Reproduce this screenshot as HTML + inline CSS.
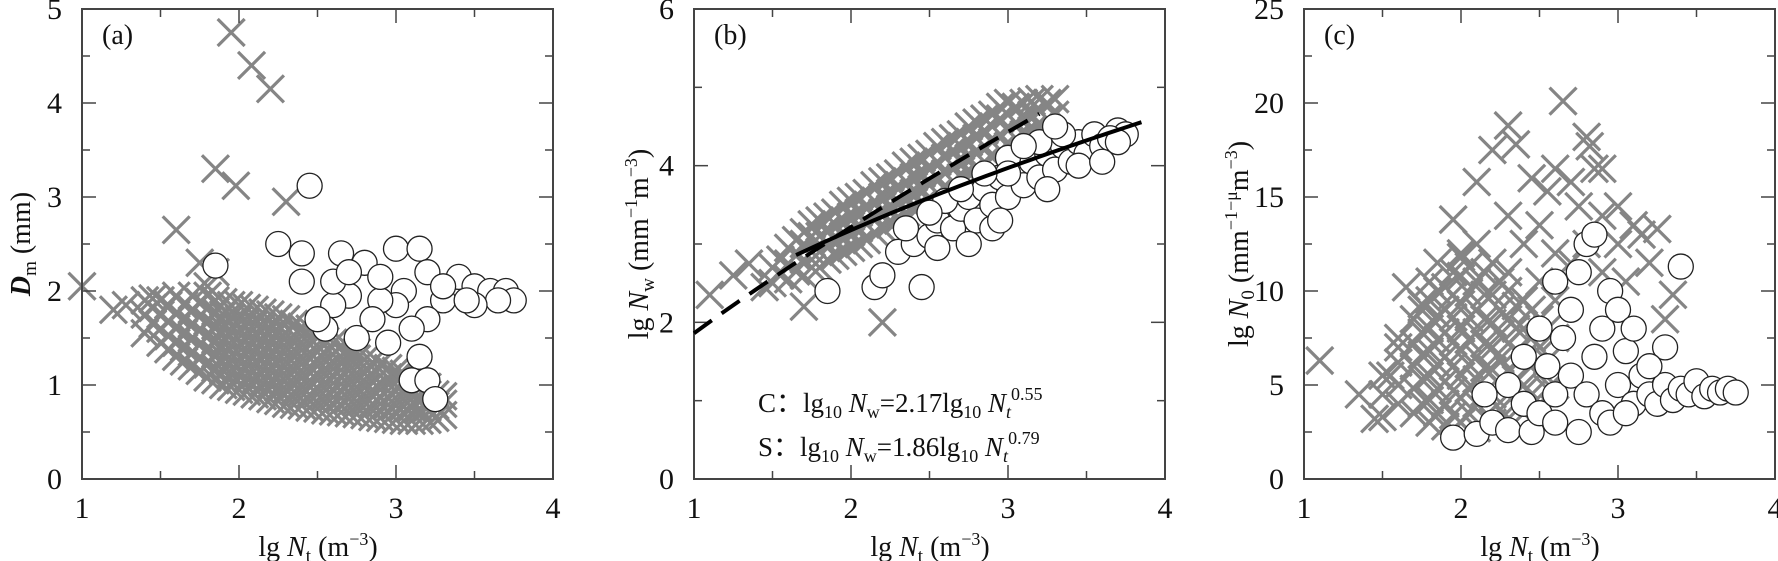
<!DOCTYPE html>
<html><head><meta charset="utf-8"><style>
body{margin:0;background:#fff;width:1778px;height:561px;overflow:hidden}
svg{display:block}
text{font-family:"Liberation Serif",serif;fill:#111}
</style></head><body>
<svg id="chart" width="1778" height="561" viewBox="0 0 1778 561" xmlns="http://www.w3.org/2000/svg"></svg>
<script>
// ---------- data ----------
const aCross = [[1.0,2.05],[1.2,1.8],[1.28,1.85],[1.45,1.92],[1.6,2.65],[1.75,2.3],[1.85,3.3],[1.95,4.75],[2.08,4.4],[2.2,4.15],[1.98,3.12],[2.3,2.95],[1.85,2.2],[1.8,2.05],
[1.4,1.55],[1.4,1.75],[1.4,1.9],[1.5,1.45],[1.5,1.6],[1.5,1.75],[1.5,1.9],
[1.6,1.3],[1.6,1.45],[1.6,1.6],[1.6,1.75],[1.6,1.95],[1.7,1.2],[1.7,1.35],[1.7,1.5],[1.7,1.65],[1.7,1.8],[1.7,1.95],
[1.8,1.08],[1.8,1.22],[1.8,1.38],[1.8,1.52],[1.8,1.68],[1.8,1.82],[1.8,1.95],[1.9,1.0],[1.9,1.15],[1.9,1.3],[1.9,1.45],[1.9,1.6],[1.9,1.75],[1.9,1.88],
[2.0,0.95],[2.0,1.1],[2.0,1.25],[2.0,1.4],[2.0,1.55],[2.0,1.7],[2.0,1.85],[2.1,0.9],[2.1,1.05],[2.1,1.2],[2.1,1.35],[2.1,1.5],[2.1,1.65],[2.1,1.8],
[2.2,0.85],[2.2,1.0],[2.2,1.15],[2.2,1.3],[2.2,1.45],[2.2,1.6],[2.2,1.75],[2.3,0.8],[2.3,0.95],[2.3,1.1],[2.3,1.25],[2.3,1.4],[2.3,1.55],[2.3,1.7],
[2.4,0.78],[2.4,0.92],[2.4,1.07],[2.4,1.22],[2.4,1.37],[2.4,1.52],[2.4,1.62],[2.5,0.75],[2.5,0.9],[2.5,1.05],[2.5,1.2],[2.5,1.35],[2.5,1.5],
[2.6,0.72],[2.6,0.87],[2.6,1.02],[2.6,1.17],[2.6,1.32],[2.6,1.45],[2.7,0.7],[2.7,0.85],[2.7,1.0],[2.7,1.15],[2.7,1.3],[2.7,1.4],
[2.8,0.68],[2.8,0.82],[2.8,0.97],[2.8,1.12],[2.8,1.27],[2.9,0.65],[2.9,0.8],[2.9,0.95],[2.9,1.1],[2.9,1.22],
[3.0,0.63],[3.0,0.78],[3.0,0.93],[3.0,1.08],[3.0,1.15],[3.1,0.62],[3.1,0.76],[3.1,0.9],[3.1,1.02],[3.2,0.63],[3.2,0.76],[3.2,0.9],[3.2,0.98],[3.3,0.68],[3.3,0.8],[3.3,0.88],
[1.45,1.65],[1.45,1.82],[1.55,1.38],[1.55,1.52],[1.55,1.68],[1.55,1.85],[1.65,1.25],[1.65,1.4],[1.65,1.55],[1.65,1.7],[1.65,1.85],
[1.75,1.15],[1.75,1.28],[1.75,1.43],[1.75,1.58],[1.75,1.73],[1.75,1.88],[1.85,1.05],[1.85,1.18],[1.85,1.33],[1.85,1.48],[1.85,1.63],[1.85,1.78],[1.85,1.9],
[1.95,0.98],[1.95,1.12],[1.95,1.27],[1.95,1.42],[1.95,1.57],[1.95,1.72],[1.95,1.85],[2.05,0.93],[2.05,1.07],[2.05,1.22],[2.05,1.37],[2.05,1.52],[2.05,1.67],[2.05,1.82],
[2.15,0.88],[2.15,1.02],[2.15,1.17],[2.15,1.32],[2.15,1.47],[2.15,1.62],[2.15,1.77],[2.25,0.83],[2.25,0.97],[2.25,1.12],[2.25,1.27],[2.25,1.42],[2.25,1.57],[2.25,1.72],
[2.35,0.79],[2.35,0.93],[2.35,1.08],[2.35,1.23],[2.35,1.38],[2.35,1.53],[2.35,1.65],[2.45,0.76],[2.45,0.9],[2.45,1.05],[2.45,1.2],[2.45,1.35],[2.45,1.5],[2.45,1.6],
[2.55,0.73],[2.55,0.88],[2.55,1.03],[2.55,1.18],[2.55,1.33],[2.55,1.47],[2.65,0.71],[2.65,0.86],[2.65,1.01],[2.65,1.16],[2.65,1.3],[2.65,1.42],
[2.75,0.69],[2.75,0.83],[2.75,0.98],[2.75,1.13],[2.75,1.28],[2.75,1.35],[2.85,0.66],[2.85,0.8],[2.85,0.95],[2.85,1.1],[2.85,1.24],
[2.95,0.64],[2.95,0.79],[2.95,0.94],[2.95,1.08],[2.95,1.18],[3.05,0.62],[3.05,0.77],[3.05,0.91],[3.05,1.05],[3.05,1.12],
[3.15,0.62],[3.15,0.75],[3.15,0.88],[3.15,1.0],[3.25,0.65],[3.25,0.78],[3.25,0.9]];
const aCircle = [[1.85,2.27],[2.25,2.5],[2.45,3.12],[2.4,2.4],[2.4,2.1],[2.65,2.4],[2.8,2.3],[3.0,2.45],[3.15,2.45],[3.05,2.0],[3.2,2.2],[3.4,2.15],[3.5,2.05],[3.6,2.0],[3.7,2.0],[3.75,1.9],[3.65,1.9],[3.5,1.85],[3.3,1.9],[3.2,1.7],[3.1,1.6],[3.0,1.85],[2.9,1.9],[2.85,1.7],[2.7,1.95],[2.6,1.85],[2.55,1.6],[2.75,1.5],[2.95,1.45],[3.15,1.3],[3.1,1.05],[3.2,1.05],[3.25,0.85],[2.6,2.1],[2.9,2.15],[3.3,2.05],[3.45,1.9],[2.5,1.7],[2.7,2.2]];
const bCross = [[1.1,2.35],[1.35,2.75],[1.25,2.6],[1.45,2.45],[1.7,2.2],[2.2,2.0],
[1.5,2.5],[1.5,2.7],[1.6,2.55],[1.6,2.75],[1.6,2.95],[1.7,2.6],[1.7,2.8],[1.7,3.0],[1.7,3.15],[1.8,2.7],[1.8,2.9],[1.8,3.1],[1.8,3.3],
[1.9,2.85],[1.9,3.05],[1.9,3.25],[1.9,3.4],[2.0,2.95],[2.0,3.15],[2.0,3.35],[2.0,3.55],[2.1,3.05],[2.1,3.25],[2.1,3.45],[2.1,3.65],
[2.2,3.2],[2.2,3.4],[2.2,3.6],[2.2,3.8],[2.3,3.3],[2.3,3.5],[2.3,3.7],[2.3,3.9],[2.4,3.45],[2.4,3.65],[2.4,3.85],[2.4,4.05],
[2.5,3.55],[2.5,3.75],[2.5,3.95],[2.5,4.15],[2.6,3.7],[2.6,3.9],[2.6,4.1],[2.6,4.3],[2.7,3.85],[2.7,4.05],[2.7,4.25],[2.7,4.4],
[2.8,3.95],[2.8,4.15],[2.8,4.35],[2.8,4.55],[2.9,4.1],[2.9,4.3],[2.9,4.5],[2.9,4.65],[3.0,4.25],[3.0,4.45],[3.0,4.65],[3.0,4.8],
[3.1,4.4],[3.1,4.6],[3.1,4.8],[3.2,4.5],[3.2,4.7],[3.2,4.85],[3.3,4.65],[3.3,4.85],
[1.55,2.6],[1.55,2.8],[1.65,2.65],[1.65,2.85],[1.65,3.05],[1.75,2.7],[1.75,2.9],[1.75,3.1],[1.75,3.25],[1.85,2.8],[1.85,3.0],[1.85,3.2],[1.85,3.35],
[1.95,2.9],[1.95,3.1],[1.95,3.3],[1.95,3.5],[2.05,3.0],[2.05,3.2],[2.05,3.4],[2.05,3.6],[2.15,3.15],[2.15,3.35],[2.15,3.55],[2.15,3.75],
[2.25,3.25],[2.25,3.45],[2.25,3.65],[2.25,3.85],[2.35,3.4],[2.35,3.6],[2.35,3.8],[2.35,4.0],[2.45,3.5],[2.45,3.7],[2.45,3.9],[2.45,4.1],
[2.55,3.65],[2.55,3.85],[2.55,4.05],[2.55,4.25],[2.65,3.8],[2.65,4.0],[2.65,4.2],[2.65,4.35],[2.75,3.9],[2.75,4.1],[2.75,4.3],[2.75,4.5],
[2.85,4.05],[2.85,4.25],[2.85,4.45],[2.85,4.6],[2.95,4.2],[2.95,4.4],[2.95,4.6],[2.95,4.75],[3.05,4.35],[3.05,4.55],[3.05,4.75],
[3.15,4.45],[3.15,4.65],[3.15,4.82],[3.25,4.6],[3.25,4.8]];
const bCircle = [[1.85,2.4],[2.15,2.45],[2.2,2.6],[2.45,2.45],[2.3,2.9],[2.4,3.0],[2.5,3.1],[2.55,3.3],[2.65,3.2],[2.7,3.45],[2.75,3.6],[2.8,3.3],[2.85,3.7],[2.9,3.5],[2.95,3.85],[3.0,3.6],[3.05,3.95],[3.1,3.75],[3.15,4.05],[3.2,3.85],[3.25,4.15],[3.3,3.95],[3.35,4.25],[3.4,4.05],[3.45,4.3],[3.5,4.15],[3.55,4.4],[3.6,4.25],[3.7,4.45],[3.75,4.4],[3.65,4.35],[2.6,3.55],[2.9,3.2],[3.0,4.1],[3.2,4.3],[3.1,4.25],[2.75,3.0],[2.95,3.3],[3.35,4.4],[2.35,3.2],[2.55,2.95],[3.3,4.5],
[3.0,3.9],[3.25,3.7],[3.45,4.0],[3.6,4.05],[3.7,4.3],[2.85,3.9],[2.7,3.7],[2.5,3.4]];
const cCross = [[1.1,6.3],[1.45,3.2],[1.55,5.5],[1.35,4.5],[1.65,10.2],[1.75,9.3],[1.6,7.5],[1.95,13.8],[2.1,15.8],[2.2,17.5],[2.3,18.8],[2.35,17.8],[2.45,16.0],[2.55,15.3],[2.65,20.1],[2.6,16.5],[2.7,15.8],[2.8,18.2],[2.82,17.7],[2.85,16.5],[2.9,16.5],[2.75,14.5],[2.8,12.5],[3.0,12.5],[3.1,13.5],[3.15,13.0],[3.25,13.3],[3.35,9.8],[2.9,11.0],[3.05,10.5],[2.7,11.5],[2.4,12.5],[2.5,13.5],[2.3,14.0],[2.9,14.0],[3.0,14.5],[1.85,11.5],[2.0,11.8],[3.3,8.5],[3.2,11.5],
[1.5,3.3],[1.5,4.5],[1.5,5.5],[1.6,4.0],[1.6,5.0],[1.6,6.2],[1.6,7.0],[1.7,3.5],[1.7,4.8],[1.7,6.0],[1.7,7.2],[1.7,8.5],
[1.8,3.0],[1.8,4.2],[1.8,5.5],[1.8,6.8],[1.8,8.0],[1.8,9.5],[1.8,10.5],[1.9,2.8],[1.9,4.0],[1.9,5.2],[1.9,6.5],[1.9,7.8],[1.9,9.0],[1.9,10.2],
[2.0,3.0],[2.0,4.3],[2.0,5.5],[2.0,6.8],[2.0,8.0],[2.0,9.3],[2.0,10.8],[2.0,12.0],[2.1,2.7],[2.1,4.0],[2.1,5.3],[2.1,6.5],[2.1,7.8],[2.1,9.0],[2.1,10.5],[2.1,12.5],
[2.2,3.0],[2.2,4.5],[2.2,5.8],[2.2,7.0],[2.2,8.3],[2.2,9.8],[2.2,11.5],[2.3,3.2],[2.3,4.5],[2.3,5.8],[2.3,7.2],[2.3,8.5],[2.3,10.0],[2.3,11.0],
[2.4,3.5],[2.4,5.0],[2.4,6.5],[2.4,8.0],[2.4,9.5],[2.5,4.0],[2.5,5.5],[2.5,7.0],[2.5,8.5],[2.5,10.5],[2.6,5.0],[2.6,7.5],[2.6,9.5],[2.6,12.0],
[1.75,4.0],[1.75,5.3],[1.75,6.6],[1.75,7.8],[1.75,9.0],[1.85,3.5],[1.85,4.8],[1.85,6.1],[1.85,7.4],[1.85,8.7],[1.85,10.0],
[1.95,3.4],[1.95,4.7],[1.95,6.0],[1.95,7.3],[1.95,8.6],[1.95,9.8],[1.95,11.0],[2.05,3.5],[2.05,4.8],[2.05,6.1],[2.05,7.4],[2.05,8.6],[2.05,9.9],[2.05,11.3],
[2.15,3.3],[2.15,4.6],[2.15,5.9],[2.15,7.2],[2.15,8.5],[2.15,9.8],[2.15,11.0],[2.25,3.7],[2.25,5.0],[2.25,6.4],[2.25,7.7],[2.25,9.0],[2.25,10.5],
[2.35,4.0],[2.35,5.3],[2.35,6.8],[2.35,8.0],[2.35,9.2],[2.45,4.5],[2.45,6.0],[2.45,7.5],[2.45,9.0],[2.55,4.8],[2.55,6.3],[2.55,8.0]];
const cCircle = [[1.95,2.2],[2.1,2.4],[2.2,3.0],[2.3,2.6],[2.45,2.5],[2.15,4.5],[2.3,5.0],[2.4,4.0],[2.5,3.5],[2.6,4.5],[2.55,6.0],[2.65,7.5],[2.7,9.0],[2.75,11.0],[2.8,12.5],[2.7,5.5],[2.8,4.5],[2.85,6.5],[2.9,8.0],[2.95,10.0],[2.9,3.5],[3.0,5.0],[3.05,6.8],[3.1,4.0],[3.15,5.5],[3.2,4.5],[3.25,4.0],[3.3,5.0],[3.35,4.2],[3.4,4.8],[3.45,4.5],[3.5,5.2],[3.55,4.4],[3.6,4.8],[3.65,4.6],[3.7,4.8],[3.75,4.6],[3.3,7.0],[3.4,11.3],[3.0,9.0],[2.85,13.0],[2.6,10.5],[2.5,8.0],[2.4,6.5],[3.1,8.0],[3.2,6.0],[2.95,3.0],[2.6,3.0],[3.05,3.5],[2.75,2.5]];
const xTicks = [1,2,3,4];
const aYTicks = [0,1,2,3,4,5];
const bYTicks = [0,2,4,6];
const cYTicks = [0,5,10,15,20,25];
const fitC = [2.17,0.55,1.65,3.85]; // coef, exponent, xstart, xend (solid)
const fitS = [1.86,0.79,1.0,3.2];   // dashed

// ---------- drawing ----------
const NS='http://www.w3.org/2000/svg';
const svg=document.getElementById('chart');
function mk(tag,attrs,parent){const e=document.createElementNS(NS,tag);for(const k in attrs)e.setAttribute(k,attrs[k]);(parent||svg).appendChild(e);return e;}
const TOP=9,BOT=479,W=471;
function panel(name,left,ymax,yTicks,minorY,crosses,circles,label){
  const g=mk('g',{});
  
  
  const sx=v=>left+(v-1)/3*W, sy=v=>BOT-(v/ymax)*(BOT-TOP);
  const cg=mk('g',{},g);
  
  
  crosses.forEach(p=>{const x=sx(p[0]),y=sy(p[1]),h=13.5;
    const e=mk('path',{d:`M${x-h},${y-h}L${x+h},${y+h}M${x-h},${y+h}L${x+h},${y-h}`,stroke:'#858585','stroke-width':3.2,fill:'none'},cg);
    
    });
  const og=mk('g',{},g);
  
  
  circles.forEach(p=>{const e=mk('circle',{cx:sx(p[0]),cy:sy(p[1]),r:12.5,fill:'#fff',stroke:'#222','stroke-width':1.3},og);
    
    });
  const fr=mk('rect',{x:left,y:TOP,width:W,height:BOT-TOP,fill:'none',stroke:'#444','stroke-width':2},g);
  
  
  for(let v=1;v<=4;v+=0.5){const x=sx(v),L=(v%1===0)?14:8;
    mk('line',{x1:x,y1:BOT,x2:x,y2:BOT-L,stroke:'#444','stroke-width':1.5},g);
    mk('line',{x1:x,y1:TOP,x2:x,y2:TOP+L,stroke:'#444','stroke-width':1.5},g);}
  xTicks.forEach(v=>{const t=mk('text',{x:sx(v),y:518,'font-size':30,'text-anchor':'middle'},g);t.textContent=v;
    
    });
  for(let v=0;v<=ymax;v+=minorY){const y=sy(v),L=(yTicks.indexOf(v)>=0)?14:8;
    mk('line',{x1:left,y1:y,x2:left+L,y2:y,stroke:'#444','stroke-width':1.5},g);
    mk('line',{x1:left+W,y1:y,x2:left+W-L,y2:y,stroke:'#444','stroke-width':1.5},g);}
  yTicks.forEach(v=>{const t=mk('text',{x:left-20,y:sy(v)+10,'font-size':30,'text-anchor':'end'},g);t.textContent=v;
    
    });
  const pl=mk('text',{x:left+20,y:44,'font-size':28},g);pl.textContent=label;
  
  
  return {g,sx,sy};
}
const pa=panel('panel-a',82,5,aYTicks,0.5,aCross,aCircle,'(a)');
const pb=panel('panel-b',694,6,bYTicks,1,bCross,bCircle,'(b)');
const pc=panel('panel-c',1304,25,cYTicks,2.5,cCross,cCircle,'(c)');
function fit(f,dash,name){let d='';for(let i=0;i<=40;i++){const x=f[2]+(f[3]-f[2])*i/40,y=f[0]*Math.pow(x,f[1]);d+=(i?'L':'M')+pb.sx(x)+','+pb.sy(y);}
  const e=mk('path',{d,fill:'none',stroke:'#000','stroke-width':4,'stroke-dasharray':dash},pb.g);
  
  }
fit(fitC,'none','fit-line-c');
fit(fitS,'22,12','fit-line-s');
</script>
<script>
(function(){
const svg=document.getElementById('chart');
function add(html){svg.insertAdjacentHTML('beforeend',html);}
add('<text x="318" y="556" font-size="28" text-anchor="middle">lg <tspan font-style="italic">N</tspan><tspan font-size="19" dy="6">t</tspan><tspan dy="-6">  (m</tspan><tspan font-size="18" dy="-11">−3</tspan><tspan dy="11">)</tspan></text>');
add('<text x="930" y="556" font-size="28" text-anchor="middle">lg <tspan font-style="italic">N</tspan><tspan font-size="19" dy="6">t</tspan><tspan dy="-6">  (m</tspan><tspan font-size="18" dy="-11">−3</tspan><tspan dy="11">)</tspan></text>');
add('<text x="1540" y="556" font-size="28" text-anchor="middle">lg <tspan font-style="italic">N</tspan><tspan font-size="19" dy="6">t</tspan><tspan dy="-6">  (m</tspan><tspan font-size="18" dy="-11">−3</tspan><tspan dy="11">)</tspan></text>');
add('<text transform="translate(30,244) rotate(-90)" font-size="28" text-anchor="middle"><tspan font-style="italic" font-weight="bold">D</tspan><tspan font-size="19" dy="6">m</tspan><tspan dy="-6"> (mm)</tspan></text>');
add('<text transform="translate(648,244) rotate(-90)" font-size="28" text-anchor="middle">lg <tspan font-style="italic">N</tspan><tspan font-size="19" dy="6">w</tspan><tspan dy="-6">  (mm</tspan><tspan font-size="18" dy="-11">−1</tspan><tspan dy="11">m</tspan><tspan font-size="18" dy="-11">−3</tspan><tspan dy="11">)</tspan></text>');
add('<text transform="translate(1248,244) rotate(-90)" font-size="28" text-anchor="middle">lg <tspan font-style="italic">N</tspan><tspan font-size="19" dy="6">0</tspan><tspan dy="-6">  (mm</tspan><tspan font-size="18" dy="-11">−1−μ</tspan><tspan dy="11">m</tspan><tspan font-size="18" dy="-11">−3</tspan><tspan dy="11">)</tspan></text>');
add('<text x="758" y="412" font-size="27">C：lg<tspan font-size="18" dy="6">10</tspan><tspan dy="-6"> </tspan><tspan font-style="italic">N</tspan><tspan font-size="18" dy="6">w</tspan><tspan dy="-6">=2.17lg</tspan><tspan font-size="18" dy="6">10</tspan><tspan dy="-6"> </tspan><tspan font-style="italic">N</tspan><tspan font-size="18" font-style="italic" dy="6">t</tspan><tspan font-size="18" dy="-18">0.55</tspan></text>');
add('<text x="758" y="456" font-size="27">S：lg<tspan font-size="18" dy="6">10</tspan><tspan dy="-6"> </tspan><tspan font-style="italic">N</tspan><tspan font-size="18" dy="6">w</tspan><tspan dy="-6">=1.86lg</tspan><tspan font-size="18" dy="6">10</tspan><tspan dy="-6"> </tspan><tspan font-style="italic">N</tspan><tspan font-size="18" font-style="italic" dy="6">t</tspan><tspan font-size="18" dy="-18">0.79</tspan></text>');
})();
</script>
</body></html>
